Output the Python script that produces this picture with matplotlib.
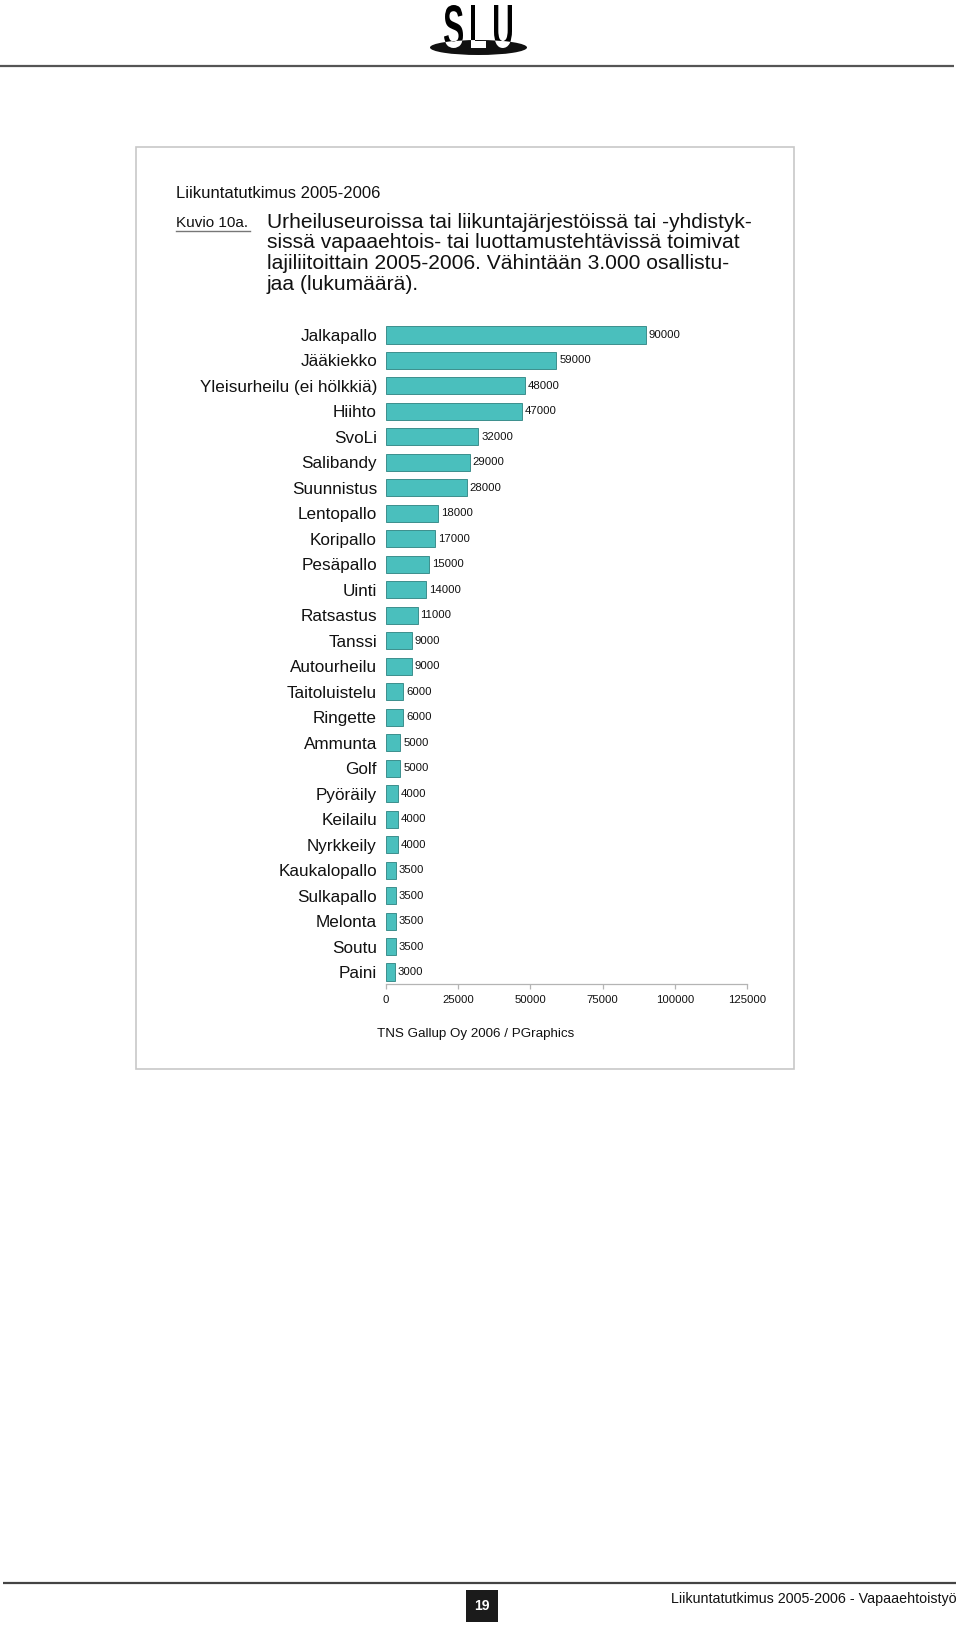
import matplotlib
matplotlib.use('Agg')
import matplotlib.pyplot as plt
import numpy as np
from matplotlib.patches import Rectangle, Ellipse, PathPatch
from matplotlib.textpath import TextPath
from matplotlib.font_manager import FontProperties
from matplotlib.transforms import Affine2D

plt.rcParams['font.family'] = ['Liberation Sans', 'DejaVu Sans']

# data
sports = ['Jalkapallo', 'Jääkiekko', 'Yleisurheilu (ei hölkkiä)', 'Hiihto', 'SvoLi',
          'Salibandy', 'Suunnistus', 'Lentopallo', 'Koripallo', 'Pesäpallo', 'Uinti',
          'Ratsastus', 'Tanssi', 'Autourheilu', 'Taitoluistelu', 'Ringette', 'Ammunta',
          'Golf', 'Pyöräily', 'Keilailu', 'Nyrkkeily', 'Kaukalopallo', 'Sulkapallo',
          'Melonta', 'Soutu', 'Paini']
volunteers = [90000, 59000, 48000, 47000, 32000, 29000, 28000, 18000, 17000, 15000, 14000,
              11000, 9000, 9000, 6000, 6000, 5000, 5000, 4000, 4000, 4000, 3500, 3500,
              3500, 3500, 3000]
x_ticks = [0, 25000, 50000, 75000, 100000, 125000]

header_text = 'Liikuntatutkimus 2005-2006'
figure_no = 'Kuvio 10a.'
title_lines = ['Urheiluseuroissa tai liikuntajärjestöissä tai -yhdistyk-',
               'sissä vapaaehtois- tai luottamustehtävissä toimivat',
               'lajiliitoittain 2005-2006. Vähintään 3.000 osallistu-',
               'jaa (lukumäärä).']
source_text = 'TNS Gallup Oy 2006 / PGraphics'
footer_text = 'Liikuntatutkimus 2005-2006 - Vapaaehtoistyö'
page_no = '19'

W, H = 960, 1626
BAR_COLOR = '#4abfbd'
BAR_EDGE = '#3c8f8d'


def letter(ax, ch, box, color='k', clip=None):
    # draw one logo letter squeezed into a pixel box (x0, x1, ytop, ybottom)
    x0, x1, y0, y1 = box
    tp = TextPath((0, 0), ch, size=100, prop=FontProperties(family='Liberation Sans', weight='bold'))
    ext = tp.get_extents()
    sx = (x1 - x0) / ext.width
    sy = (y1 - y0) / ext.height
    tr = Affine2D().translate(-ext.x0, -ext.y0).scale(sx, -sy).translate(x0, y1)
    p = PathPatch(tr.transform_path(tp), facecolor=color, edgecolor='none', zorder=5)
    ax.add_patch(p)
    if clip is not None:
        p.set_clip_path(clip)
    return p


def draw_page(fig):
    ax = fig.add_axes([0, 0, 1, 1])
    ax.set_xlim(0, W)
    ax.set_ylim(H, 0)
    ax.axis('off')

    # logo
    boxes = {'S': (444, 463, 5, 48), 'L': (471, 486, 5, 48), 'U': (494, 512, 5, 48)}
    for ch, b in boxes.items():
        letter(ax, ch, b)
    ell = Ellipse((478.5, 47.5), 97, 15, facecolor='#111111', edgecolor='none', zorder=6)
    ax.add_patch(ell)
    for ch, b in boxes.items():
        p = letter(ax, ch, b, color='white', clip=ell)
        p.set_zorder(7)

    # header and footer rules
    ax.plot([0, 954], [66, 66], color='#555555', lw=1.6, solid_capstyle='butt')
    ax.plot([3, 956], [1583, 1583], color='#444444', lw=1.6, solid_capstyle='butt')

    # frame round the figure
    ax.add_patch(Rectangle((136, 147), 658, 922, facecolor='none', edgecolor='#c8c8c8', lw=1.2))

    ax.text(176, 194, header_text, fontsize=12, va='center', ha='left', color='#111111')
    ax.text(176, 223, figure_no, fontsize=11, va='center', ha='left', color='#111111')
    ax.plot([176, 250], [231, 231], color='#777777', lw=1.0)
    for i, line in enumerate(title_lines):
        ax.text(267, 222 + i * 20.9, line, fontsize=15.1, va='center', ha='left', color='#111111')

    ax.text(377, 1034, source_text, fontsize=9.6, va='center', ha='left', color='#111111')

    # page number box
    ax.add_patch(Rectangle((466, 1590), 32, 32, facecolor='#1b1b1b', edgecolor='none'))
    ax.text(482, 1606, page_no, fontsize=10, fontweight='bold', color='white', ha='center', va='center')
    ax.text(957, 1599, footer_text, fontsize=10.3, va='center', ha='right', color='#111111')


def draw_chart(fig):
    left, right = 386, 747
    top, bottom = 323, 984
    ax = fig.add_axes([left / W, 1 - bottom / H, (right - left) / W, (bottom - top) / H])
    pos = np.arange(len(sports))
    bars = ax.barh(pos, volunteers, height=0.67, color=BAR_COLOR, edgecolor=BAR_EDGE, linewidth=0.7)
    ax.bar_label(bars, labels=[str(v) for v in volunteers], padding=2, fontsize=8.2, color='#111111')

    ax.set_xlim(0, 125000)
    ax.set_ylim(len(sports) - 1 + 0.47, -0.47)
    ax.set_yticks(pos)
    ax.set_yticklabels(sports, fontsize=12.3, color='#111111')
    ax.set_xticks(x_ticks)
    ax.set_xticklabels([str(t) for t in x_ticks], fontsize=8.2, color='#111111')

    for s in ['top', 'right', 'left']:
        ax.spines[s].set_visible(False)
    ax.spines['bottom'].set_color('#b4b4b4')
    ax.spines['bottom'].set_linewidth(0.9)
    ax.tick_params(axis='y', length=0, pad=6.5)
    ax.tick_params(axis='x', length=3.6, width=0.9, color='#b4b4b4', pad=4, direction='out')
    ax.patch.set_alpha(0)


fig = plt.figure(figsize=(W / 100, H / 100), dpi=100)
fig.patch.set_facecolor('white')
draw_page(fig)
draw_chart(fig)
fig.savefig('out.png', dpi=100, facecolor='white')
plt.close()
